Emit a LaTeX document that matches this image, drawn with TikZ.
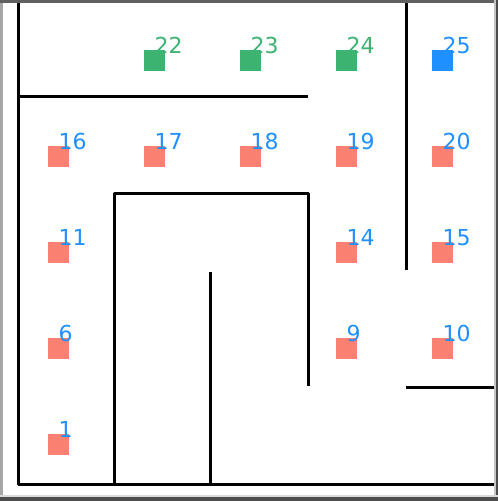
\documentclass[tikz,border=0pt]{standalone}
\usepackage{fontspec}
\setmainfont{DejaVu Sans}
\definecolor{salmon}{HTML}{FA8072}
\definecolor{seagreen}{HTML}{3CB371}
\definecolor{dodger}{HTML}{1E90FF}
\begin{document}
\begin{tikzpicture}[x=1pt,y=-1pt,
  cell/.style={minimum size=21pt,inner sep=0pt,outer sep=0pt,draw=none},
  lbl/.style={anchor=base west,inner sep=0pt,font=\fontsize{22}{22}\selectfont},
  wall/.style={line width=3pt,line join=round}]
\useasboundingbox (0,0) rectangle (498,501);
\fill[white] (0,0) rectangle (498,501);
% frame
\fill[gray!70] (0,0) rectangle (2.5,501);
\fill[gray!75!black] (0,0) rectangle (498,2.5);
\fill[gray!45] (493.5,0) rectangle (495.5,501);
\fill[gray!60!black] (495.5,0) rectangle (498,501);
\fill[gray!30] (0,494.5) rectangle (498,496.5);
\fill[gray!60!black] (0,496.5) rectangle (498,501);
% walls
\draw[wall] (18,3) -- (18,484) -- (494,484);
\draw[wall] (18,96) -- (307.5,96);
\draw[wall] (406,3) -- (406,270);
\draw[wall] (114,484) -- (114,193) -- (308,193) -- (308,386);
\draw[wall] (210,272) -- (210,484);
\draw[wall] (406,387.5) -- (494,387.5);
% squares and labels
\foreach \n/\c/\r/\col/\tc in {22/1/0/seagreen/seagreen,23/2/0/seagreen/seagreen,24/3/0/seagreen/seagreen,25/4/0/dodger/dodger,
  16/0/1/salmon/dodger,17/1/1/salmon/dodger,18/2/1/salmon/dodger,19/3/1/salmon/dodger,20/4/1/salmon/dodger,
  11/0/2/salmon/dodger,14/3/2/salmon/dodger,15/4/2/salmon/dodger,
  6/0/3/salmon/dodger,9/3/3/salmon/dodger,10/4/3/salmon/dodger,
  1/0/4/salmon/dodger}{
  \node[cell,fill=\col] (s\n) at ({58.5+96*\c},{60.5+96*\r}) {};
  \node[lbl,text=\tc] (t\n) at ({58.5+96*\c},{53+96*\r}) {\n};
}
\end{tikzpicture}
\end{document}
